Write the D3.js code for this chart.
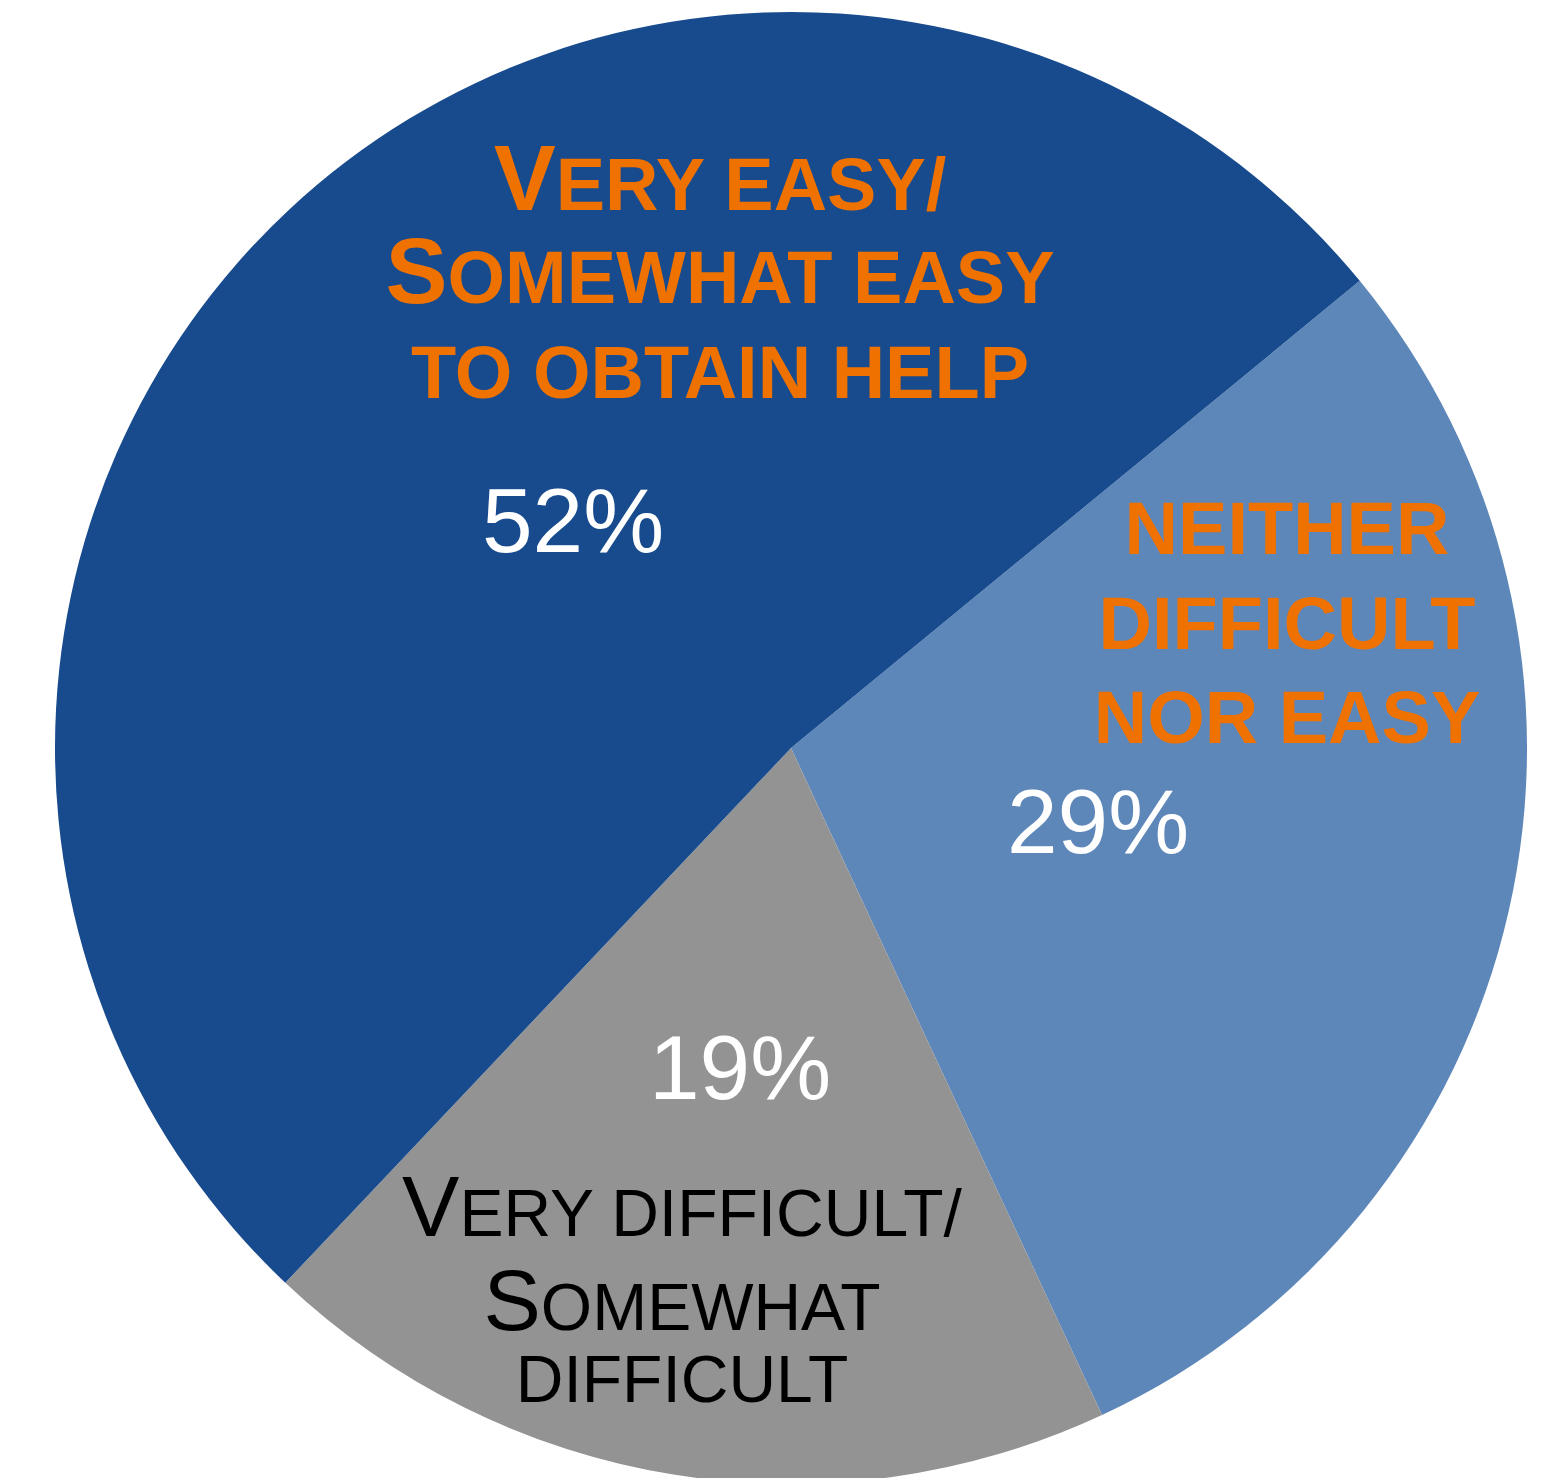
<!DOCTYPE html>
<html>
<head>
<meta charset="utf-8">
<script src="https://cdn.jsdelivr.net/npm/d3@7"></script>
<style>
  html, body { margin: 0; padding: 0; background: #fff; }
  svg { display: block; }
  text { font-family: "Liberation Sans", Arial, Helvetica, sans-serif; }
</style>
</head>
<body>
<svg id="chart" width="1551" height="1478"></svg>
<script>
// Survey answer shares, in drawing order (clockwise)
const categories = ["Neither difficult nor easy", "Very difficult/Somewhat difficult", "Very easy/Somewhat easy to obtain help"];
const values = [29, 19, 52];
const colors = ["#5E87B9", "#939393", "#174B8D"];

// Slice labels in small caps: each segment is [text, isFullCap]
const labelLines = [
  [[["NEITHER", false]], [["DIFFICULT", false]], [["NOR EASY", false]]],
  [[["V", true], ["ERY DIFFICULT/", false]], [["S", true], ["OMEWHAT", false]], [["DIFFICULT", false]]],
  [[["V", true], ["ERY EASY/", false]], [["S", true], ["OMEWHAT EASY", false]], [["TO OBTAIN HELP", false]]]
];
const percentLabels = values.map(v => v + "%");

const width = 1551, height = 1478;
const cx = 791, cy = 748, radius = 736;

const svg = d3.select("#chart");
const g = svg.append("g").attr("transform", `translate(${cx},${cy})`);

const start = 50.6 * Math.PI / 180;
const pie = d3.pie().sort(null).value(d => d).startAngle(start).endAngle(start + 2 * Math.PI);
const arcs = pie(values);
const arc = d3.arc().innerRadius(0).outerRadius(radius);

g.selectAll("path.slice")
  .data(arcs)
  .join("path")
  .attr("class", "slice")
  .attr("d", arc)
  .attr("fill", (d, i) => colors[i]);

// Label styling and placement per slice (offsets from the pie centre)
const labelStyle = [
  { x: 496, y: [-194, -99, -5], big: 74, small: 74, weight: "bold", fill: "#EF7100" },
  { x: -109, y: [488, 582, 654], big: 86, small: 66, weight: "normal", fill: "#000" },
  { x: -71, y: [-538, -445, -350], big: 93, small: 74, weight: "bold", fill: "#EF7100" }
];
const percentPos = [[307, 105], [-51, 351], [-218, -196]];

labelLines.forEach((lines, i) => {
  const s = labelStyle[i];
  lines.forEach((segs, j) => {
    const t = g.append("text")
      .attr("x", s.x)
      .attr("y", s.y[j])
      .attr("text-anchor", "middle")
      .attr("font-weight", s.weight)
      .attr("fill", s.fill);
    segs.forEach(([txt, cap]) => {
      t.append("tspan")
        .attr("font-size", cap ? s.big : s.small)
        .text(txt);
    });
  });
});

g.selectAll("text.pct")
  .data(arcs)
  .join("text")
  .attr("class", "pct")
  .attr("x", (d, i) => percentPos[i][0])
  .attr("y", (d, i) => percentPos[i][1])
  .attr("text-anchor", "middle")
  .attr("font-size", 91)
  .attr("fill", "#fff")
  .text((d, i) => percentLabels[i]);
</script>
</body>
</html>
